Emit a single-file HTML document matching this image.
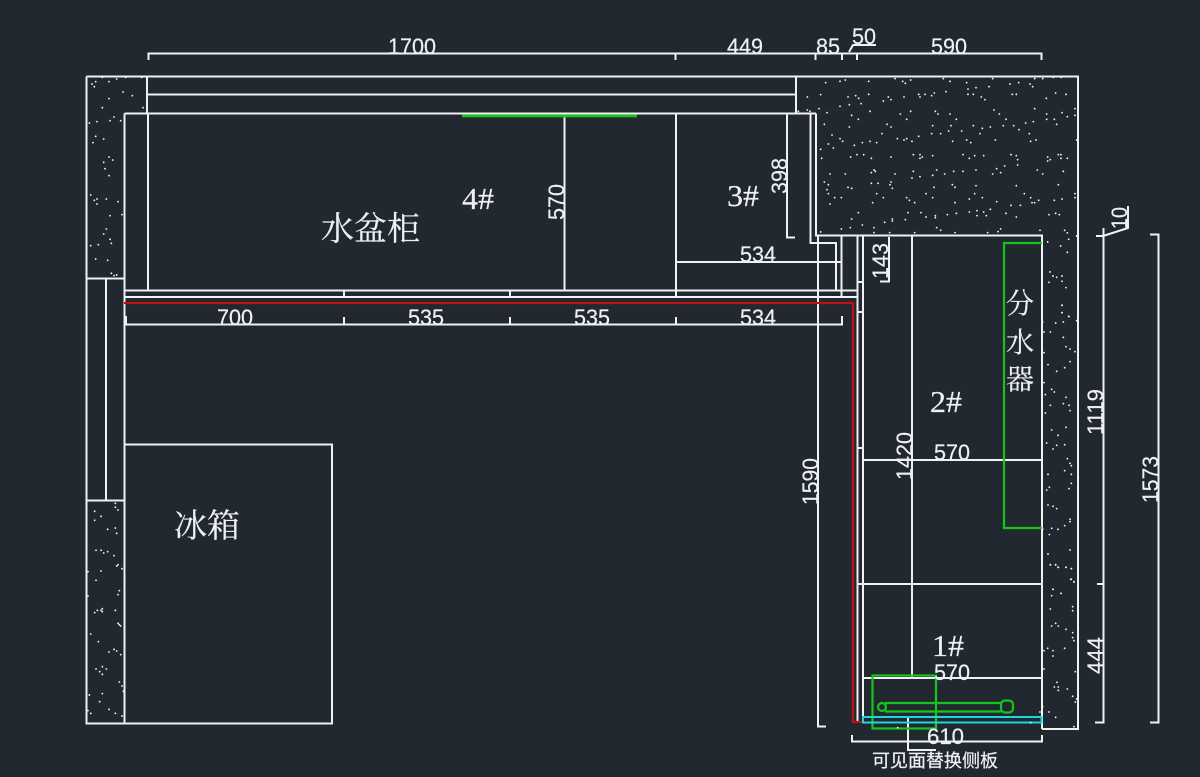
<!DOCTYPE html>
<html><head><meta charset="utf-8"><style>
html,body{margin:0;padding:0;background:#212830}
svg{display:block}
text{font-family:"Liberation Sans",sans-serif;font-size:22px;fill:#eef1f3;stroke:#eef1f3;stroke-width:.2}
.c{font-family:"Liberation Serif","Noto Serif CJK SC",serif;font-size:33px}
.h{font-family:"Liberation Serif",serif;font-size:31px}
.d{fill:none;stroke:#f2f3f3;stroke-width:5.500;stroke-linecap:round}
</style></head><body>
<svg width="1200" height="777" viewBox="0 0 1200 777" xmlns="http://www.w3.org/2000/svg">
<rect width="1200" height="777" fill="#212830"/>
<g fill="none" stroke="#eff1f2" stroke-width="2">
<path d="M86.500 76.500H1078V729H1042M86.500 76.500V723.500H332V444.500H124.500"/>
<path d="M147 76.500V113M796 76.500V113M147 94.500H796M124.500 113.500H816M124.500 113.500V724M148 113.500V290M86.500 278.500H124.500M106 278.500V500.500M86.500 500.500H124.500"/>
<path d="M564.500 113.500V290M676 113.500V297M810.500 113.500V243H836V290M816 113.500V235.500H1042V729M841.500 236V297M676 262H842M124.500 290.500H857M124.500 297H857M344 290.500V297M510 290.500V297"/>
<path d="M857.500 236V723M863 236V723M857 282H863M857 312H863M857 448H863M857 584H1042M863 460H1042M863 678H1042M912 236V678"/>
<path d="M787 113.500V237.500H795M889 237V281.500H880M818 235V726.500H826"/>
<path d="M148.500 60V53.500H1041.500V60M675.500 53.500V60M815.500 53.500V60M842 53.500V60M857 53.500V60M849 52L853 45H876"/>
<path d="M126 316V324.500H842V316M344 317V324.500M510 317V324.500M676 317V324.500"/>
<path d="M1096 236H1104M1103.500 228V722.500H1095M1097 584H1104M1103 236L1128 228V206M1150 234.500H1158.500V722.500H1150"/>
<path d="M852 735V741.500H1042V735M908 718V750H936"/>
</g>
<path d="M124 303H853V722H863" fill="none" stroke="#c40f12" stroke-width="2.200"/>
<g fill="none" stroke="#16c41e" stroke-width="2.200">
<path d="M462 116H637" stroke-width="2.800"/>
<path d="M1042 243H1004V528H1042"/>
<rect x="872.500" y="675.500" width="63.500" height="53"/>
<path d="M885 703H1001M885 711.500H1001"/>
<circle cx="882" cy="707" r="4"/>
<rect x="1001" y="700.500" width="12" height="12" rx="4"/>
</g>
<rect x="863" y="717" width="178.500" height="5.500" fill="none" stroke="#1fd4dc" stroke-width="2"/>

<g class="d" transform="translate(780 20) scale(.3333)">
<path d="M137 188h.1M180 184h.1M196 180h.1M266 184h.1M345 176h.1M368 184h.1M376 190h.1M392 180h.1M490 176h.1M510 184h.1M560 188h.1M638 176h.1M690 192h.1M716 188h.1M750 192h.1M758 200h.1M764 176h.1M788 176h.1M820 172h.1M844 172h.1M82 231h.1M122 224h.1M204 231h.1M227 227h.1M236 235h.1M266 223h.1M243 251h.1M208 254h.1M180 259h.1M310 243h.1M325 231h.1M333 239h.1M372 231h.1M416 223h.1M420 231h.1M435 223h.1M455 227h.1M463 219h.1M498 215h.1M564 207h.1M588 203h.1M564 223h.1M580 223h.1M627 200h.1M604 231h.1M615 239h.1M697 223h.1M709 223h.1M799 235h.1M827 219h.1M858 223h.1"/>
<path d="M82 270h.1M55 274h.1M90 274h.1M117 266h.1M141 278h.1M215 286h.1M235 298h.1M270 274h.1M361 282h.1M392 274h.1M380 298h.1M466 274h.1M474 282h.1M510 282h.1M529 298h.1M642 270h.1M658 282h.1M678 298h.1M764 266h.1M800 282h.1M800 298h.1M823 298h.1M846 278h.1M862 290h.1M885 266h.1M885 286h.1M830 313h.1M133 313h.1M208 321h.1M321 313h.1M333 321h.1M458 317h.1M513 317h.1M580 317h.1M607 325h.1M631 321h.1M670 317h.1M701 317h.1M717 329h.1M737 309h.1M760 305h.1M156 345h.1M306 341h.1M455 341h.1M482 341h.1M506 333h.1M545 333h.1M600 341h.1M748 341h.1M416 349h.1"/>
<path d="M145 372h.1M160 384h.1M180 356h.1M188 364h.1M223 376h.1M247 368h.1M270 364h.1M290 368h.1M352 356h.1M372 360h.1M380 356h.1M396 364h.1M518 364h.1M560 360h.1M572 368h.1M646 360h.1M752 364h.1M768 360h.1M122 388h.1M125 415h.1M212 411h.1M231 404h.1M251 404h.1M274 415h.1M333 411h.1M400 404h.1M420 404h.1M427 411h.1M420 415h.1M458 407h.1M549 404h.1M568 415h.1M584 407h.1M611 407h.1M693 404h.1M709 407h.1M713 419h.1M713 435h.1M803 411h.1M811 419h.1M803 423h.1M835 404h.1M843 404h.1M843 415h.1M862 415h.1"/>
<path d="M150 462h.1M196 462h.1M274 458h.1M282 450h.1M286 454h.1M274 490h.1M294 490h.1M345 462h.1M400 454h.1M396 474h.1M420 470h.1M458 466h.1M470 450h.1M494 462h.1M521 454h.1M549 454h.1M588 450h.1M638 462h.1M650 446h.1M662 458h.1M674 438h.1M772 450h.1M788 462h.1M850 454h.1M133 486h.1M145 494h.1M141 509h.1M145 521h.1M164 533h.1M184 533h.1M204 502h.1M215 505h.1M290 521h.1M310 533h.1M278 548h.1M333 486h.1M330 494h.1M337 505h.1M462 502h.1M517 494h.1M525 502h.1M588 497h.1M709 497h.1M835 494h.1M438 521h.1M458 533h.1M584 521h.1M607 533h.1M568 537h.1M380 533h.1M388 541h.1M404 548h.1M525 548h.1M650 545h.1M733 521h.1M752 533h.1M756 548h.1M764 548h.1M776 541h.1M823 541h.1M846 537h.1M885 521h.1M885 533h.1M693 556h.1M721 556h.1"/>
<path d="M150 552h.1M235 578h.1M215 597h.1M337 597h.1M337 603h.1M314 607h.1M384 578h.1M376 599h.1M423 578h.1M438 591h.1M466 587h.1M466 593h.1M502 584h.1M529 580h.1M568 576h.1M591 572h.1M591 587h.1M611 576h.1M619 587h.1M631 568h.1M678 580h.1M709 591h.1M807 584h.1M827 580h.1M838 584h.1M247 615h.1M211 623h.1M184 627h.1M282 623h.1M470 623h.1M482 631h.1M662 627h.1M654 635h.1M780 631h.1M854 631h.1M862 639h.1M866 658h.1M842 678h.1M862 697h.1M803 666h.1M810 756h.1M807 787h.1M819 768h.1M830 772h.1M846 768h.1M846 784h.1M858 803h.1M846 856h.1M846 878h.1M866 889h.1M890 360h.1M890 648h.1M122 636h.1M282 638h.1M329 638h.1M404 638h.1M525 638h.1M623 638h.1"/>
</g>
<g class="d" transform="translate(990 300) scale(.3333)">
<path d="M216 16h.1M216 38h.1M237 50h.1M260 62h.1M220 66h.1M197 69h.1M158 66h.1M162 96h.1M181 96h.1M220 112h.1M228 140h.1M240 147h.1M255 155h.1M162 158h.1M240 185h.1M224 203h.1M200 214h.1M174 194h.1M162 248h.1M185 268h.1M193 276h.1M166 284h.1M228 292h.1M220 311h.1M237 316h.1M181 316h.1M240 332h.1M166 339h.1M228 382h.1M185 390h.1M204 406h.1M170 429h.1M200 436h.1M224 434h.1M189 447h.1M232 476h.1M240 490h.1M244 497h.1M224 512h.1M174 523h.1M244 523h.1M244 550h.1M178 562h.1M170 570h.1M237 566h.1M174 615h.1M189 619h.1M200 626h.1M240 658h.1M240 665h.1M224 677h.1M185 685h.1M204 688h.1M158 688h.1M178 704h.1M240 750h.1M174 762h.1M181 795h.1M197 795h.1M204 802h.1M228 802h.1M244 806h.1M242 838h.1M252 845h.1M189 868h.1"/>
</g>
<g class="d" transform="translate(790 560) scale(.3333)">
<path d="M781 14h.1M797 14h.1M805 22h.1M828 22h.1M844 26h.1M844 58h.1M852 66h.1M789 88h.1M785 107h.1M813 100h.1M848 140h.1M848 152h.1M781 147h.1M797 190h.1M785 198h.1M805 198h.1M828 208h.1M848 218h.1M848 233h.1M852 242h.1M773 265h.1M789 272h.1M762 272h.1M824 265h.1M789 288h.1M762 327h.1M856 335h.1M801 367h.1M793 381h.1M805 381h.1M832 387h.1M805 391h.1M848 409h.1M860 417h.1M856 426h.1M758 440h.1M750 456h.1M777 456h.1M797 472h.1M722 488h.1M852 500h.1M323 503h.1"/>
</g>
<g class="d" transform="translate(70 60) scale(.3333)">
<path d="M97 52h.1M140 57h.1M167 52h.1M215 52h.1M66 72h.1M77 65h.1M73 80h.1M117 65h.1M159 96h.1M187 107h.1M117 116h.1M97 143h.1M219 143h.1M58 189h.1M81 185h.1M120 182h.1M132 171h.1M152 182h.1M77 229h.1M101 237h.1M69 248h.1M117 291h.1M128 300h.1M101 307h.1M105 326h.1M117 347h.1M62 405h.1M81 417h.1M73 421h.1M81 432h.1M109 417h.1M144 425h.1M120 467h.1M156 464h.1M109 507h.1M101 522h.1M120 538h.1M124 550h.1M85 554h.1M62 557h.1M77 597h.1M113 601h.1M124 640h.1M132 647h.1M140 645h.1"/>
</g>
<g class="d" transform="translate(70 480) scale(.3333)">
<path d="M136 70h.1M136 82h.1M144 90h.1M74 94h.1M93 109h.1M74 121h.1M113 148h.1M136 144h.1M140 160h.1M78 211h.1M93 211h.1M101 219h.1M113 215h.1M132 227h.1M144 254h.1M140 258h.1M156 266h.1M93 273h.1M54 275h.1M78 301h.1M148 332h.1M144 344h.1M54 348h.1M97 386h.1M93 391h.1M82 391h.1M97 395h.1M74 398h.1M136 391h.1M144 430h.1M148 434h.1M152 438h.1M62 462h.1M85 485h.1M132 508h.1M140 513h.1M117 516h.1M152 524h.1M97 560h.1M78 567h.1M109 567h.1M89 575h.1M97 583h.1M148 606h.1M156 618h.1M160 634h.1M97 641h.1M58 645h.1M89 665h.1M117 688h.1M54 692h.1M62 700h.1M136 700h.1M156 708h.1"/>
</g>

<text x="388" y="54" textLength="48" lengthAdjust="spacingAndGlyphs">1700</text>
<text x="727" y="54" textLength="36" lengthAdjust="spacingAndGlyphs">449</text>
<text x="816" y="54" textLength="24" lengthAdjust="spacingAndGlyphs">85</text>
<text x="852" y="44" textLength="24" lengthAdjust="spacingAndGlyphs">50</text>
<text x="931" y="54" textLength="36" lengthAdjust="spacingAndGlyphs">590</text>
<text x="217" y="325" textLength="36" lengthAdjust="spacingAndGlyphs">700</text>
<text x="408" y="325" textLength="36" lengthAdjust="spacingAndGlyphs">535</text>
<text x="574" y="325" textLength="36" lengthAdjust="spacingAndGlyphs">535</text>
<text x="740" y="325" textLength="36" lengthAdjust="spacingAndGlyphs">534</text>
<text x="740" y="262" textLength="36" lengthAdjust="spacingAndGlyphs">534</text>
<text x="934" y="460" textLength="36" lengthAdjust="spacingAndGlyphs">570</text>
<text x="934" y="680" textLength="36" lengthAdjust="spacingAndGlyphs">570</text>
<text x="927" y="744" textLength="37" lengthAdjust="spacingAndGlyphs">610</text>
<text transform="translate(787 194) rotate(-90)" textLength="36" lengthAdjust="spacingAndGlyphs">398</text>
<text transform="translate(564 220) rotate(-90)" textLength="36" lengthAdjust="spacingAndGlyphs">570</text>
<text transform="translate(888 279) rotate(-90)" textLength="36" lengthAdjust="spacingAndGlyphs">143</text>
<text transform="translate(818 505) rotate(-90)" textLength="47" lengthAdjust="spacingAndGlyphs">1590</text>
<text transform="translate(912 480) rotate(-90)" textLength="48" lengthAdjust="spacingAndGlyphs">1420</text>
<text transform="translate(1103 435) rotate(-90)" textLength="46" lengthAdjust="spacingAndGlyphs">1119</text>
<text transform="translate(1158 503) rotate(-90)" textLength="47" lengthAdjust="spacingAndGlyphs">1573</text>
<text transform="translate(1103 674) rotate(-90)" textLength="37" lengthAdjust="spacingAndGlyphs">444</text>
<text transform="translate(1127 229) rotate(-90)" textLength="22" lengthAdjust="spacingAndGlyphs">10</text>

<text class="c" x="321" y="240">水盆柜</text>
<text class="c" x="174" y="537">冰箱</text>
<text class="c" x="1006" y="313" style="font-size:28px">分</text>
<text class="c" x="1006" y="352" style="font-size:28px">水</text>
<text class="c" x="1006" y="389" style="font-size:28px">器</text>
<text class="h" x="462" y="209" textLength="32" lengthAdjust="spacingAndGlyphs">4#</text>
<text class="h" x="727" y="206" textLength="32" lengthAdjust="spacingAndGlyphs">3#</text>
<text class="h" x="930" y="412" textLength="32" lengthAdjust="spacingAndGlyphs">2#</text>
<text class="h" x="932" y="656" textLength="32" lengthAdjust="spacingAndGlyphs">1#</text>
<text x="872" y="767" style="font-family:'Liberation Sans','Noto Sans CJK SC',sans-serif;font-size:18px">可见面替换侧板</text>
</svg>
</body></html>
